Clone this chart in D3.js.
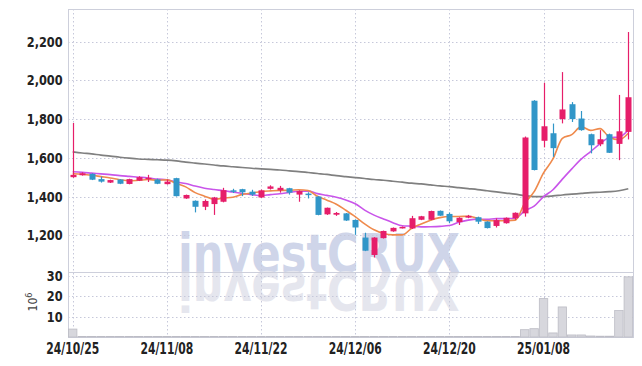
<!DOCTYPE html>
<html>
<head>
<meta charset="utf-8">
<script src="https://cdn.jsdelivr.net/npm/d3@7"></script>
<style>
body { margin: 0; background: #fff; }
.tick text { font-family: "DejaVu Sans Condensed", sans-serif; font-weight: bold; fill: #222; }
</style>
</head>
<body>
<div id="chart"></div>
<script>
const dates = [
  '2024-10-25','2024-10-28','2024-10-29','2024-10-30','2024-10-31',
  '2024-11-01','2024-11-04','2024-11-05','2024-11-06','2024-11-07',
  '2024-11-08','2024-11-11','2024-11-12','2024-11-13','2024-11-14',
  '2024-11-15','2024-11-18','2024-11-19','2024-11-20','2024-11-21',
  '2024-11-22','2024-11-25','2024-11-26','2024-11-27','2024-11-28',
  '2024-11-29','2024-12-02','2024-12-03','2024-12-04','2024-12-05',
  '2024-12-06','2024-12-09','2024-12-10','2024-12-11','2024-12-12',
  '2024-12-13','2024-12-16','2024-12-17','2024-12-18','2024-12-19',
  '2024-12-20','2024-12-23','2024-12-24','2024-12-26','2024-12-27',
  '2024-12-30','2025-01-02','2025-01-03','2025-01-06','2025-01-07',
  '2025-01-08','2025-01-09','2025-01-10','2025-01-13','2025-01-14',
  '2025-01-15','2025-01-16','2025-01-17','2025-01-20','2025-01-21'
];
const opens = [1500,1510,1517,1490,1472,1488,1465,1482,1490,1488,
  1464,1495,1390,1378,1347,1361,1373,1432,1438,1425,
  1395,1440,1432,1443,1410,1415,1400,1308,1306,1313,
  1279,1188,1098,1185,1220,1237,1235,1280,1280,1326,
  1310,1268,1291,1293,1270,1248,1262,1288,1313,1895,
  1688,1727,1800,1877,1803,1722,1670,1722,1672,1734];
const highs = [1780,1525,1520,1503,1487,1490,1492,1505,1512,1492,
  1488,1497,1410,1380,1385,1398,1445,1440,1440,1435,
  1436,1458,1455,1445,1432,1422,1402,1343,1320,1315,
  1282,1213,1190,1224,1240,1245,1300,1300,1327,1328,
  1318,1293,1305,1296,1272,1287,1292,1318,1710,1898,
  1988,1777,2043,1888,1842,1725,1743,1725,1925,2250];
const lows = [1497,1508,1485,1472,1470,1464,1463,1480,1475,1464,
  1462,1400,1388,1318,1330,1305,1370,1418,1402,1403,
  1393,1436,1420,1410,1373,1390,1303,1305,1300,1274,
  1202,1118,1085,1183,1218,1235,1232,1278,1278,1300,
  1262,1253,1288,1258,1235,1240,1260,1280,1296,1535,
  1654,1605,1778,1785,1740,1623,1660,1625,1588,1695];
const closes = [1512,1520,1487,1477,1485,1466,1490,1500,1497,1466,
  1477,1402,1408,1347,1377,1395,1433,1428,1422,1410,
  1432,1452,1445,1420,1428,1408,1305,1342,1315,1276,
  1240,1120,1188,1222,1238,1243,1288,1298,1325,1301,
  1272,1290,1300,1270,1237,1278,1290,1316,1705,1537,
  1763,1650,1850,1800,1743,1665,1696,1626,1737,1913];
// volume in millions
const volume = [3.9,0.2,0.2,0.2,0.2,0.2,0.2,0.2,0.2,0.2,
  0.2,0.2,0.2,0.2,0.2,0.2,0.2,0.2,0.2,0.2,
  0.2,0.2,0.2,0.2,0.2,0.2,0.2,0.2,0.2,0.2,
  0.2,0.2,0.2,0.2,0.2,0.2,0.2,0.2,0.2,0.2,
  0.2,0.2,0.2,0.2,0.2,0.2,0.2,0.2,3.6,4.1,
  18.9,2.0,14.8,1.0,1.0,0.5,0.4,0.4,13.0,29.6];
const ma5 = [1518,1515,1510,1503,1496,1487,1481,1484,1488,1484,
  1486,1468,1450,1420,1402,1386,1392,1396,1411,1418,
  1425,1429,1432,1432,1435,1431,1401,1381,1360,1329,
  1296,1259,1228,1209,1202,1202,1236,1258,1278,1291,
  1297,1297,1298,1287,1274,1275,1275,1278,1365,1425,
  1522,1594,1701,1720,1761,1742,1751,1706,1693,1727];
const ma10 = [1528,1525,1521,1517,1513,1508,1504,1500,1496,1490,
  1487,1475,1467,1454,1443,1436,1430,1423,1416,1410,
  1405,1410,1414,1421,1427,1428,1415,1406,1396,1382,
  1363,1330,1304,1284,1265,1249,1247,1243,1244,1246,
  1250,1267,1278,1283,1282,1286,1286,1288,1326,1350,
  1399,1435,1490,1543,1593,1632,1673,1704,1707,1744];
const ma60 = [1631,1625,1620,1614,1609,1603,1598,1594,1592,1590,
  1588,1584,1578,1573,1568,1563,1558,1554,1550,1546,
  1543,1540,1537,1533,1529,1524,1519,1514,1508,1503,
  1498,1493,1488,1484,1479,1474,1469,1465,1460,1455,
  1451,1446,1441,1436,1430,1424,1418,1412,1405,1400,
  1400,1403,1408,1412,1416,1420,1422,1425,1430,1440];
const priceTicks = [1200, 1400, 1600, 1800, 2000, 2200];
const volTicks = [10, 20, 30];
const dateTicks = ['2024-10-25','2024-11-08','2024-11-22','2024-12-06','2024-12-20','2025-01-08'];

const width = 642, height = 366;
const mLeft = 68, mRight = 633, mTop = 9, mMid = 272, mBottom = 337;
const up = '#e61e6a', down = '#3196c8';
const gridColor = '#c6c8da';

const data = dates.map((d, i) => ({
  date: d, o: opens[i], h: highs[i], l: lows[i], c: closes[i], v: volume[i]
}));

const x = d3.scaleBand().domain(dates).range([mLeft, mRight]);
const cx = d => x(d) + x.bandwidth() / 2;
const y = d3.scaleLinear().domain([1010, 2369]).range([mMid, mTop]);
const yv = d3.scaleLinear().domain([0, 32]).range([mBottom, mMid]);

const svg = d3.select('#chart').append('svg')
  .attr('width', width).attr('height', height);

// watermark + reflection
const wm = svg.append('g').attr('font-family', 'DejaVu Sans').attr('font-weight', 'bold')
  .attr('font-size', 53);
wm.append('text').attr('x', 178).attr('y', 272)
  .attr('textLength', 282).attr('lengthAdjust', 'spacingAndGlyphs')
  .attr('fill', '#cfd5e9').text('investCRUX');
wm.append('text').attr('x', 178).attr('y', 272)
  .attr('transform', 'translate(0,544) scale(1,-1)')
  .attr('textLength', 282).attr('lengthAdjust', 'spacingAndGlyphs')
  .attr('fill', '#e5e6ee').text('investCRUX');

// grid
const grid = svg.append('g')
  .attr('stroke', gridColor).attr('stroke-dasharray', '1.5,2.5').attr('stroke-width', 1);
grid.selectAll('.hp').data(priceTicks).join('line')
  .attr('x1', mLeft).attr('x2', mRight)
  .attr('y1', d => Math.round(y(d)) + 0.5).attr('y2', d => Math.round(y(d)) + 0.5);
grid.selectAll('.hv').data(volTicks).join('line')
  .attr('x1', mLeft).attr('x2', mRight)
  .attr('y1', d => Math.round(yv(d)) + 0.5).attr('y2', d => Math.round(yv(d)) + 0.5);
grid.selectAll('.vx').data(dateTicks).join('line')
  .attr('x1', d => Math.round(cx(d)) + 0.5).attr('x2', d => Math.round(cx(d)) + 0.5)
  .attr('y1', mTop).attr('y2', mBottom);

// frame
const border = svg.append('g').attr('stroke', '#cdcfdb').attr('fill', 'none');
border.append('rect').attr('x', mLeft + 0.5).attr('y', mTop + 0.5)
  .attr('width', mRight - mLeft).attr('height', mBottom - mTop);
border.append('line').attr('x1', mLeft).attr('x2', mRight).attr('y1', mMid + 0.5).attr('y2', mMid + 0.5);

// volume bars
svg.append('g').selectAll('rect').data(data).join('rect')
  .attr('x', d => x(d.date) + 0.5)
  .attr('width', x.bandwidth() - 1)
  .attr('y', d => yv(d.v))
  .attr('height', d => mBottom - yv(d.v))
  .attr('fill', '#d7d7dd')
  .attr('stroke', '#bcbcc5')
  .attr('stroke-width', 0.8);

// moving averages
const maLine = arr => d3.line().x((d, i) => cx(dates[i])).y(d => y(d)).curve(d3.curveMonotoneX)(arr);
svg.append('path').attr('d', maLine(ma60)).attr('fill', 'none').attr('stroke', '#808080').attr('stroke-width', 1.7);
svg.append('path').attr('d', maLine(ma10)).attr('fill', 'none').attr('stroke', '#c955ea').attr('stroke-width', 1.6);
svg.append('path').attr('d', maLine(ma5)).attr('fill', 'none').attr('stroke', '#ef8a4c').attr('stroke-width', 1.6);

// candles
const candles = svg.append('g').selectAll('g').data(data).join('g')
  .attr('fill', d => d.c >= d.o ? up : down)
  .attr('stroke', d => d.c >= d.o ? up : down);
candles.append('line')
  .attr('x1', d => Math.round(cx(d.date)) + 0.5).attr('x2', d => Math.round(cx(d.date)) + 0.5)
  .attr('y1', d => y(d.h)).attr('y2', d => y(d.l))
  .attr('stroke-width', 1.2);
candles.append('rect')
  .attr('x', d => Math.round(cx(d.date)) - 2.5)
  .attr('width', 6)
  .attr('y', d => y(Math.max(d.o, d.c)))
  .attr('height', d => Math.max(1.5, Math.abs(y(d.o) - y(d.c))))
  .attr('stroke', 'none');

// axes
const fmtDate = d => d.slice(2).replace(/-/g, '/');
const yAxis = svg.append('g').attr('transform', `translate(${mLeft},0)`)
  .call(d3.axisLeft(y).tickValues(priceTicks).tickFormat(d3.format(',')).tickSize(0).tickPadding(6));
yAxis.select('.domain').remove();
yAxis.selectAll('text').attr('font-size', 14).attr('transform', 'scale(0.9,1)');

const vAxis = svg.append('g').attr('transform', `translate(${mLeft},0)`)
  .call(d3.axisLeft(yv).tickValues(volTicks).tickSize(0).tickPadding(6));
vAxis.select('.domain').remove();
vAxis.selectAll('text').attr('font-size', 14).attr('transform', 'scale(0.9,1)');

const xAxis = svg.append('g').attr('transform', `translate(0,${mBottom})`)
  .call(d3.axisBottom(x).tickValues(dateTicks).tickFormat(fmtDate).tickSize(0).tickPadding(6));
xAxis.select('.domain').remove();
xAxis.selectAll('text').attr('font-size', 15).attr('transform', 'scale(0.8,1)');

// unit label
const unit = svg.append('text')
  .attr('transform', 'translate(37,302) rotate(-90)')
  .attr('text-anchor', 'middle')
  .attr('font-family', 'DejaVu Sans Condensed, sans-serif')
  .attr('font-size', 12).attr('fill', '#444');
unit.append('tspan').text('10');
unit.append('tspan').attr('dy', -5).attr('font-size', 9).text('6');
</script>
</body>
</html>
